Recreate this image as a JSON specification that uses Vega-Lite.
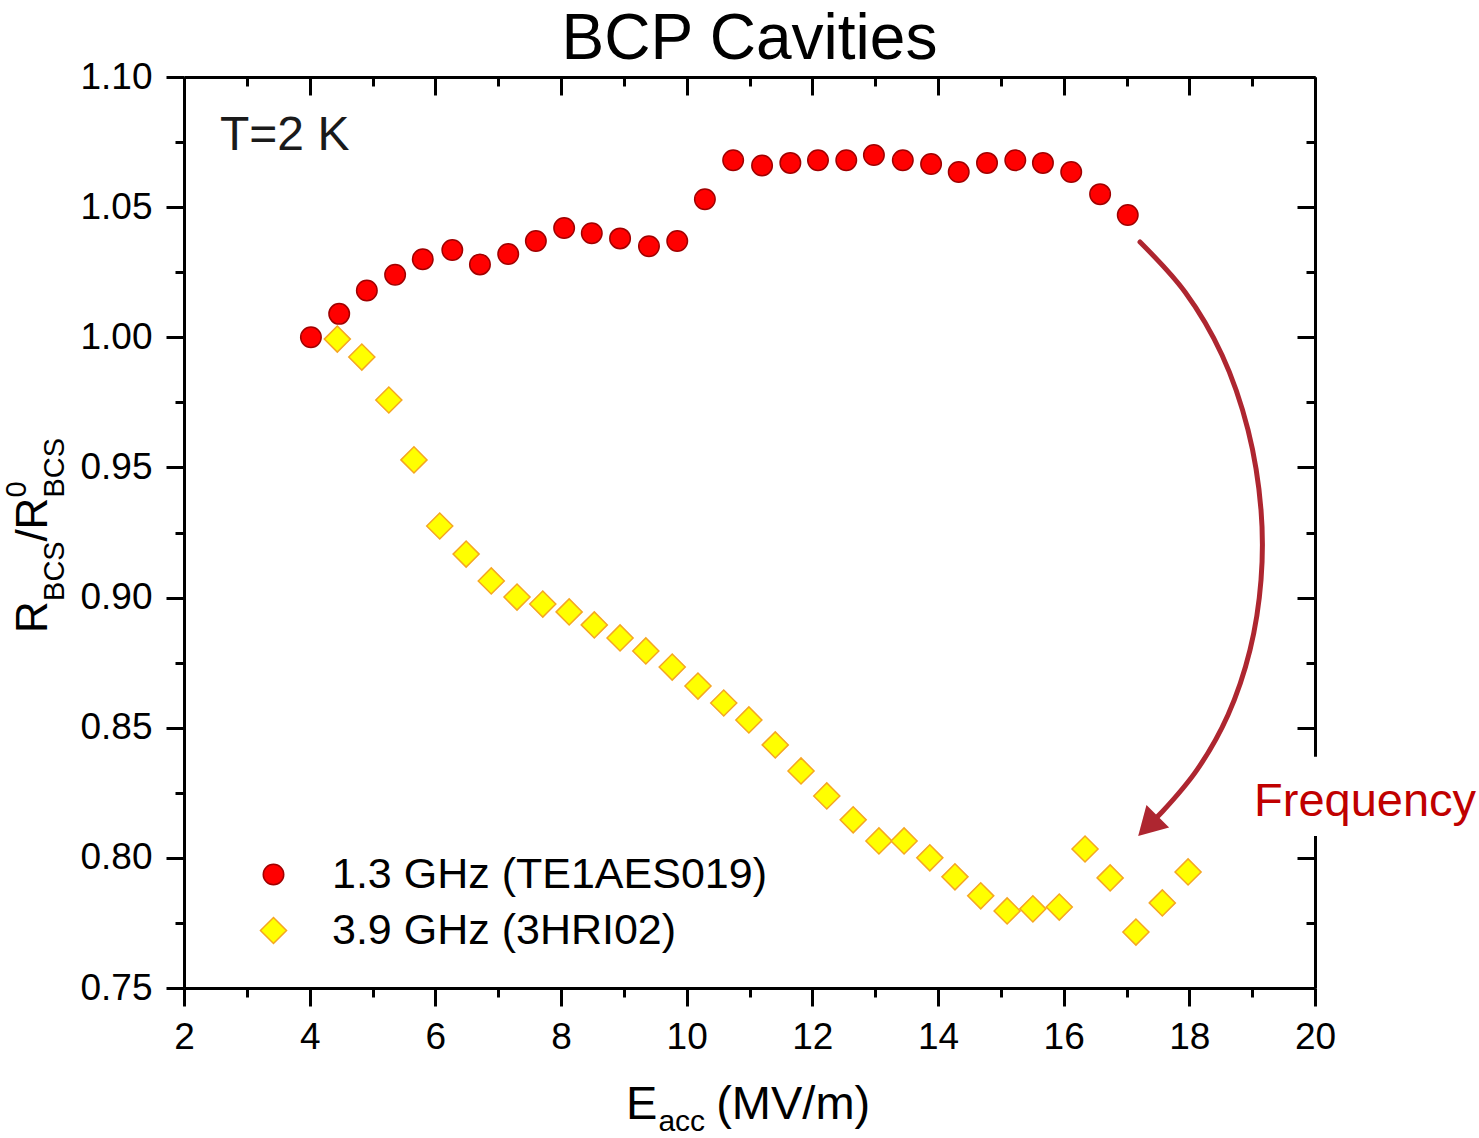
{
  "$schema": "https://vega.github.io/schema/vega-lite/v6.json",
  "autosize": "none",
  "width": 1131,
  "height": 911,
  "padding": {"left": 184, "top": 77, "right": 164, "bottom": 150},
  "background": "white",
  "title": {
    "text": "BCP Cavities",
    "font": "Liberation Sans",
    "fontSize": 64,
    "fontWeight": "normal",
    "color": "black",
    "anchor": "middle",
    "offset": -14
  },
  "config": {"view": {"stroke": null}, "font": "Liberation Sans"},
  "resolve": {"axis": {"x": "independent", "y": "independent"}},
  "layer": [
    {
      "data": {
        "values": [
          {"E": 4.02, "ratio": 1.000, "cavity": "1.3 GHz (TE1AES019)"},
          {"E": 4.47, "ratio": 1.009, "cavity": "1.3 GHz (TE1AES019)"},
          {"E": 4.91, "ratio": 1.018, "cavity": "1.3 GHz (TE1AES019)"},
          {"E": 5.36, "ratio": 1.024, "cavity": "1.3 GHz (TE1AES019)"},
          {"E": 5.80, "ratio": 1.030, "cavity": "1.3 GHz (TE1AES019)"},
          {"E": 6.27, "ratio": 1.0335, "cavity": "1.3 GHz (TE1AES019)"},
          {"E": 6.71, "ratio": 1.028, "cavity": "1.3 GHz (TE1AES019)"},
          {"E": 7.16, "ratio": 1.032, "cavity": "1.3 GHz (TE1AES019)"},
          {"E": 7.60, "ratio": 1.037, "cavity": "1.3 GHz (TE1AES019)"},
          {"E": 8.05, "ratio": 1.042, "cavity": "1.3 GHz (TE1AES019)"},
          {"E": 8.49, "ratio": 1.040, "cavity": "1.3 GHz (TE1AES019)"},
          {"E": 8.94, "ratio": 1.038, "cavity": "1.3 GHz (TE1AES019)"},
          {"E": 9.40, "ratio": 1.035, "cavity": "1.3 GHz (TE1AES019)"},
          {"E": 9.85, "ratio": 1.037, "cavity": "1.3 GHz (TE1AES019)"},
          {"E": 10.29, "ratio": 1.053, "cavity": "1.3 GHz (TE1AES019)"},
          {"E": 10.74, "ratio": 1.068, "cavity": "1.3 GHz (TE1AES019)"},
          {"E": 11.20, "ratio": 1.066, "cavity": "1.3 GHz (TE1AES019)"},
          {"E": 11.65, "ratio": 1.067, "cavity": "1.3 GHz (TE1AES019)"},
          {"E": 12.09, "ratio": 1.068, "cavity": "1.3 GHz (TE1AES019)"},
          {"E": 12.54, "ratio": 1.068, "cavity": "1.3 GHz (TE1AES019)"},
          {"E": 12.98, "ratio": 1.070, "cavity": "1.3 GHz (TE1AES019)"},
          {"E": 13.44, "ratio": 1.068, "cavity": "1.3 GHz (TE1AES019)"},
          {"E": 13.89, "ratio": 1.0666, "cavity": "1.3 GHz (TE1AES019)"},
          {"E": 14.33, "ratio": 1.0635, "cavity": "1.3 GHz (TE1AES019)"},
          {"E": 14.78, "ratio": 1.067, "cavity": "1.3 GHz (TE1AES019)"},
          {"E": 15.23, "ratio": 1.068, "cavity": "1.3 GHz (TE1AES019)"},
          {"E": 15.67, "ratio": 1.067, "cavity": "1.3 GHz (TE1AES019)"},
          {"E": 16.12, "ratio": 1.0635, "cavity": "1.3 GHz (TE1AES019)"},
          {"E": 16.58, "ratio": 1.055, "cavity": "1.3 GHz (TE1AES019)"},
          {"E": 17.02, "ratio": 1.047, "cavity": "1.3 GHz (TE1AES019)"},
          {"E": 4.44, "ratio": 0.9993, "cavity": "3.9 GHz (3HRI02)"},
          {"E": 4.83, "ratio": 0.9924, "cavity": "3.9 GHz (3HRI02)"},
          {"E": 5.26, "ratio": 0.9759, "cavity": "3.9 GHz (3HRI02)"},
          {"E": 5.66, "ratio": 0.9529, "cavity": "3.9 GHz (3HRI02)"},
          {"E": 6.07, "ratio": 0.9275, "cavity": "3.9 GHz (3HRI02)"},
          {"E": 6.49, "ratio": 0.9167, "cavity": "3.9 GHz (3HRI02)"},
          {"E": 6.89, "ratio": 0.9064, "cavity": "3.9 GHz (3HRI02)"},
          {"E": 7.30, "ratio": 0.9002, "cavity": "3.9 GHz (3HRI02)"},
          {"E": 7.71, "ratio": 0.8975, "cavity": "3.9 GHz (3HRI02)"},
          {"E": 8.13, "ratio": 0.8945, "cavity": "3.9 GHz (3HRI02)"},
          {"E": 8.53, "ratio": 0.8895, "cavity": "3.9 GHz (3HRI02)"},
          {"E": 8.94, "ratio": 0.8845, "cavity": "3.9 GHz (3HRI02)"},
          {"E": 9.35, "ratio": 0.8795, "cavity": "3.9 GHz (3HRI02)"},
          {"E": 9.77, "ratio": 0.8733, "cavity": "3.9 GHz (3HRI02)"},
          {"E": 10.18, "ratio": 0.8660, "cavity": "3.9 GHz (3HRI02)"},
          {"E": 10.59, "ratio": 0.8595, "cavity": "3.9 GHz (3HRI02)"},
          {"E": 10.99, "ratio": 0.8530, "cavity": "3.9 GHz (3HRI02)"},
          {"E": 11.41, "ratio": 0.8434, "cavity": "3.9 GHz (3HRI02)"},
          {"E": 11.82, "ratio": 0.8334, "cavity": "3.9 GHz (3HRI02)"},
          {"E": 12.23, "ratio": 0.8238, "cavity": "3.9 GHz (3HRI02)"},
          {"E": 12.65, "ratio": 0.8146, "cavity": "3.9 GHz (3HRI02)"},
          {"E": 13.06, "ratio": 0.8065, "cavity": "3.9 GHz (3HRI02)"},
          {"E": 13.46, "ratio": 0.8065, "cavity": "3.9 GHz (3HRI02)"},
          {"E": 13.87, "ratio": 0.8000, "cavity": "3.9 GHz (3HRI02)"},
          {"E": 14.27, "ratio": 0.7927, "cavity": "3.9 GHz (3HRI02)"},
          {"E": 14.68, "ratio": 0.7854, "cavity": "3.9 GHz (3HRI02)"},
          {"E": 15.10, "ratio": 0.7796, "cavity": "3.9 GHz (3HRI02)"},
          {"E": 15.51, "ratio": 0.7804, "cavity": "3.9 GHz (3HRI02)"},
          {"E": 15.93, "ratio": 0.7811, "cavity": "3.9 GHz (3HRI02)"},
          {"E": 16.34, "ratio": 0.8034, "cavity": "3.9 GHz (3HRI02)"},
          {"E": 16.74, "ratio": 0.7923, "cavity": "3.9 GHz (3HRI02)"},
          {"E": 17.15, "ratio": 0.7715, "cavity": "3.9 GHz (3HRI02)"},
          {"E": 17.57, "ratio": 0.7827, "cavity": "3.9 GHz (3HRI02)"},
          {"E": 17.98, "ratio": 0.7946, "cavity": "3.9 GHz (3HRI02)"}
        ]
      },
      "mark": {"type": "point", "filled": true, "opacity": 1, "strokeWidth": 1.5},
      "encoding": {
        "x": {
          "field": "E", "type": "quantitative",
          "scale": {"domain": [2, 20], "nice": false, "zero": false},
          "axis": {
            "orient": "bottom", "title": null, "grid": false,
            "values": [2, 3, 4, 5, 6, 7, 8, 9, 10, 11, 12, 13, 14, 15, 16, 17, 18, 19, 20],
            "format": "d",
            "labelExpr": "datum.value % 2 === 0 ? datum.label : ''",
            "labelOverlap": false, "labelFlush": false, "labelBound": false,
            "labelFont": "Liberation Sans", "labelFontSize": 37, "labelColor": "black", "labelPadding": 13,
            "tickSize": {"condition": {"test": "datum.value % 2 === 0", "value": 18}, "value": 9},
            "tickWidth": 3, "tickColor": "black",
            "domainColor": "black", "domainWidth": 3
          }
        },
        "y": {
          "field": "ratio", "type": "quantitative",
          "scale": {"domain": [0.75, 1.10], "nice": false, "zero": false},
          "axis": {
            "orient": "left", "title": null, "grid": false,
            "values": [0.75, 0.775, 0.8, 0.825, 0.85, 0.875, 0.9, 0.925, 0.95, 0.975, 1.0, 1.025, 1.05, 1.075, 1.1],
            "format": ".2f",
            "labelExpr": "round(datum.value * 1000) % 50 === 0 ? datum.label : ''",
            "labelOverlap": false, "labelFlush": false, "labelBound": false,
            "labelFont": "Liberation Sans", "labelFontSize": 37, "labelColor": "black", "labelPadding": 14,
            "tickSize": {"condition": {"test": "round(datum.value * 1000) % 50 === 0", "value": 18}, "value": 9},
            "tickWidth": 3, "tickColor": "black",
            "domainColor": "black", "domainWidth": 3
          }
        },
        "shape": {
          "field": "cavity", "type": "nominal",
          "scale": {"domain": ["1.3 GHz (TE1AES019)", "3.9 GHz (3HRI02)"], "range": ["circle", "diamond"]},
          "legend": {
            "orient": "none", "legendX": 68, "legendY": 776, "title": null,
            "labelFont": "Liberation Sans", "labelFontSize": 43, "labelColor": "black",
            "labelOffset": 37, "labelLimit": 0, "rowPadding": 12, "padding": 0,
            "symbolStrokeWidth": 1.5
          }
        },
        "fill": {
          "field": "cavity", "type": "nominal",
          "scale": {"domain": ["1.3 GHz (TE1AES019)", "3.9 GHz (3HRI02)"], "range": ["#FF0000", "#FFFF00"]}
        },
        "stroke": {
          "field": "cavity", "type": "nominal",
          "scale": {"domain": ["1.3 GHz (TE1AES019)", "3.9 GHz (3HRI02)"], "range": ["#A00000", "#F5A623"]}
        },
        "size": {
          "field": "cavity", "type": "nominal",
          "scale": {"domain": ["1.3 GHz (TE1AES019)", "3.9 GHz (3HRI02)"], "range": [420, 680]}
        }
      }
    },
    {
      "data": {"values": [{"x0": 19.0, "x1": 22.6, "y0": 0.8084, "y1": 0.8388}]},
      "mark": {"type": "rect", "fill": "white", "stroke": null},
      "encoding": {
        "x": {
          "field": "x0", "type": "quantitative",
          "scale": {"domain": [2, 20], "nice": false, "zero": false},
          "axis": {
            "orient": "top", "title": null, "grid": false, "labels": false,
            "values": [2, 3, 4, 5, 6, 7, 8, 9, 10, 11, 12, 13, 14, 15, 16, 17, 18, 19, 20],
            "tickSize": {"condition": {"test": "datum.value % 2 === 0", "value": -18}, "value": -9},
            "tickWidth": 3, "tickColor": "black",
            "domainColor": "black", "domainWidth": 3
          }
        },
        "x2": {"field": "x1"},
        "y": {
          "field": "y0", "type": "quantitative",
          "scale": {"domain": [0.75, 1.10], "nice": false, "zero": false},
          "axis": {
            "orient": "right", "title": null, "grid": false, "labels": false,
            "values": [0.75, 0.775, 0.8, 0.825, 0.85, 0.875, 0.9, 0.925, 0.95, 0.975, 1.0, 1.025, 1.05, 1.075, 1.1],
            "tickSize": {"condition": {"test": "round(datum.value * 1000) % 50 === 0", "value": -18}, "value": -9},
            "tickWidth": 3, "tickColor": "black",
            "domainColor": "black", "domainWidth": 3
          }
        },
        "y2": {"field": "y1"}
      }
    },
    {
      "data": {
        "values": [
          {"E": 17.215, "ratio": 1.0366, "step": 0},
          {"E": 17.931, "ratio": 1.0174, "step": 1},
          {"E": 18.520, "ratio": 0.9932, "step": 2},
          {"E": 18.934, "ratio": 0.9644, "step": 3},
          {"E": 19.141, "ratio": 0.9336, "step": 4},
          {"E": 19.141, "ratio": 0.9068, "step": 5},
          {"E": 18.966, "ratio": 0.8799, "step": 6},
          {"E": 18.615, "ratio": 0.8549, "step": 7},
          {"E": 18.122, "ratio": 0.8338, "step": 8},
          {"E": 17.565, "ratio": 0.8176, "step": 9},
          {"E": 17.370, "ratio": 0.8130, "step": 10}
        ]
      },
      "mark": {"type": "line", "color": "#AE2630", "strokeWidth": 5, "interpolate": "catmull-rom", "strokeCap": "round"},
      "encoding": {
        "x": {"field": "E", "type": "quantitative", "scale": {"domain": [2, 20], "nice": false, "zero": false}, "axis": null},
        "y": {"field": "ratio", "type": "quantitative", "scale": {"domain": [0.75, 1.10], "nice": false, "zero": false}, "axis": null},
        "order": {"field": "step"}
      }
    },
    {
      "data": {"values": [{"E": 17.342, "ratio": 0.8122}]},
      "mark": {"type": "point", "shape": "triangle-up", "filled": true, "color": "#AE2630", "size": 1024, "angle": 225, "opacity": 1},
      "encoding": {
        "x": {"field": "E", "type": "quantitative", "scale": {"domain": [2, 20], "nice": false, "zero": false}, "axis": null},
        "y": {"field": "ratio", "type": "quantitative", "scale": {"domain": [0.75, 1.10], "nice": false, "zero": false}, "axis": null}
      }
    },
    {
      "data": {"values": [{"E": 2.573, "ratio": 1.072, "note": "T=2 K"}]},
      "mark": {"type": "text", "align": "left", "baseline": "alphabetic", "font": "Liberation Sans", "fontSize": 48, "color": "#1a1a1a"},
      "encoding": {
        "x": {"field": "E", "type": "quantitative", "scale": {"domain": [2, 20], "nice": false, "zero": false}, "axis": null},
        "y": {"field": "ratio", "type": "quantitative", "scale": {"domain": [0.75, 1.10], "nice": false, "zero": false}, "axis": null},
        "text": {"field": "note"}
      }
    },
    {
      "data": {"values": [{"E": 19.03, "ratio": 0.8161, "note": "Frequency"}]},
      "mark": {"type": "text", "align": "left", "baseline": "alphabetic", "font": "Liberation Sans", "fontSize": 47, "color": "#C00000"},
      "encoding": {
        "x": {"field": "E", "type": "quantitative", "scale": {"domain": [2, 20], "nice": false, "zero": false}, "axis": null},
        "y": {"field": "ratio", "type": "quantitative", "scale": {"domain": [0.75, 1.10], "nice": false, "zero": false}, "axis": null},
        "text": {"field": "note"}
      }
    },
    {
      "data": {"values": [{"E": 9.035, "ratio": 0.6997, "piece": "E"}, {"E": 10.47, "ratio": 0.6997, "piece": "(MV/m)"}]},
      "mark": {"type": "text", "align": "left", "baseline": "alphabetic", "font": "Liberation Sans", "fontSize": 47, "color": "black"},
      "encoding": {
        "x": {"field": "E", "type": "quantitative", "scale": {"domain": [2, 20], "nice": false, "zero": false}, "axis": null},
        "y": {"field": "ratio", "type": "quantitative", "scale": {"domain": [0.75, 1.10], "nice": false, "zero": false}, "axis": null},
        "text": {"field": "piece"}
      }
    },
    {
      "data": {"values": [{"E": 9.55, "ratio": 0.69506, "piece": "acc"}]},
      "mark": {"type": "text", "align": "left", "baseline": "alphabetic", "font": "Liberation Sans", "fontSize": 30, "color": "black"},
      "encoding": {
        "x": {"field": "E", "type": "quantitative", "scale": {"domain": [2, 20], "nice": false, "zero": false}, "axis": null},
        "y": {"field": "ratio", "type": "quantitative", "scale": {"domain": [0.75, 1.10], "nice": false, "zero": false}, "axis": null},
        "text": {"field": "piece"}
      }
    },
    {
      "data": {"values": [{"E": -0.180, "ratio": 0.8864, "piece": "R"}, {"E": -0.180, "ratio": 0.9215, "piece": "/R"}]},
      "mark": {"type": "text", "align": "left", "baseline": "alphabetic", "angle": 270, "font": "Liberation Sans", "fontSize": 44, "color": "black"},
      "encoding": {
        "x": {"field": "E", "type": "quantitative", "scale": {"domain": [2, 20], "nice": false, "zero": false}, "axis": null},
        "y": {"field": "ratio", "type": "quantitative", "scale": {"domain": [0.75, 1.10], "nice": false, "zero": false}, "axis": null},
        "text": {"field": "piece"}
      }
    },
    {
      "data": {"values": [{"E": 0.090, "ratio": 0.8987, "piece": "BCS"}, {"E": 0.090, "ratio": 0.9384, "piece": "BCS"}, {"E": -0.5146, "ratio": 0.9384, "piece": "0"}]},
      "mark": {"type": "text", "align": "left", "baseline": "alphabetic", "angle": 270, "font": "Liberation Sans", "fontSize": 29, "color": "black"},
      "encoding": {
        "x": {"field": "E", "type": "quantitative", "scale": {"domain": [2, 20], "nice": false, "zero": false}, "axis": null},
        "y": {"field": "ratio", "type": "quantitative", "scale": {"domain": [0.75, 1.10], "nice": false, "zero": false}, "axis": null},
        "text": {"field": "piece"}
      }
    }
  ]
}
